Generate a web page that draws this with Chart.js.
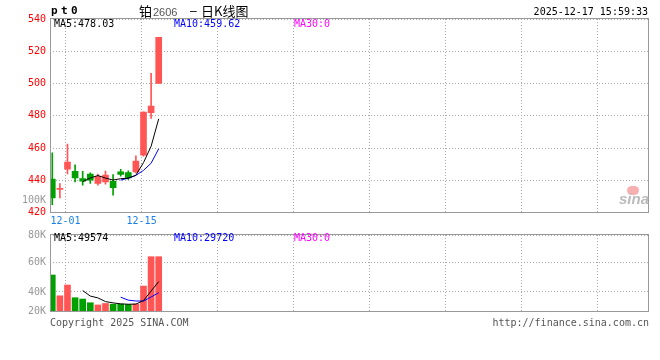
<!DOCTYPE html>
<html>
<head>
<meta charset="utf-8">
<script src="https://cdn.jsdelivr.net/npm/chart.js@4.4.1/dist/chart.umd.min.js"></script>
<style>
  body{margin:0;background:#fff;width:660px;height:360px;overflow:hidden;position:relative;font-family:"DejaVu Sans Mono",monospace;font-size:10px}
  canvas{position:absolute;left:0;top:0}
  .t{position:absolute;line-height:12px;height:12px;white-space:nowrap}
  .cjk{font-family:"Noto Sans CJK SC",sans-serif;font-size:13px;line-height:14px;height:14px}
</style>
</head>
<body>
<canvas id="kChart" width="660" height="360"></canvas>
<canvas id="volChart" width="660" height="360"></canvas>

<div class="t" style="left:51px;top:5px;font-weight:bold;font-size:11px;letter-spacing:3.4px">pt0</div>
<div class="t cjk" style="left:139px;top:4px">铂</div>
<div class="t" style="left:153px;top:6px;font-family:'Liberation Sans';font-size:11px;color:#555">2606</div>
<div class="t" style="left:190px;top:5px;font-family:'Liberation Sans';font-size:12px">–</div>
<div class="t cjk" style="left:201px;top:4px">日K线图</div>
<div class="t" style="right:12px;top:6px">2025-12-17 15:59:33</div>

<div class="t" style="left:54px;top:18px">MA5:478.03</div>
<div class="t" style="left:174px;top:18px;color:#0000ff">MA10:459.62</div>
<div class="t" style="left:294px;top:18px;color:#ff00ff">MA30:0</div>
<div class="t" style="right:614px;top:194px;color:#999">100K</div>

<div class="t" style="left:54px;top:232px">MA5:49574</div>
<div class="t" style="left:174px;top:232px;color:#0000ff">MA10:29720</div>
<div class="t" style="left:294px;top:232px;color:#ff00ff">MA30:0</div>

<div class="t" style="left:50px;top:317px;color:#555">Copyright 2025 SINA.COM</div>
<div class="t" style="right:11px;top:317px;color:#555">http://finance.sina.com.cn</div>

<div style="position:absolute;left:627px;top:186px;width:12px;height:9px;border-radius:6px;background:#f7b0b0"></div>
<div class="t" style="left:619px;top:191px;font-family:'Liberation Sans';font-size:15px;line-height:15px;height:15px;font-weight:bold;font-style:italic;color:#bbb">sina</div>

<script>
// daily candles
const dates  = ['11-27','11-28','12-01','12-02','12-03','12-04','12-05','12-08','12-09','12-10','12-11','12-12','12-15','12-16','12-17'];
const opens  = [440.7, 434.3, 446.9, 445.6, 441.1, 443.8, 438.0, 439.0, 439.4, 445.2, 444.8, 445.2, 455.6, 481.9, 500.1];
const closes = [429.1, 434.6, 451.2, 441.5, 439.4, 440.1, 442.5, 443.2, 435.4, 443.6, 441.5, 451.9, 482.2, 486.0, 528.7];
const highs  = [457.0, 438.0, 462.4, 449.6, 445.5, 444.6, 443.8, 445.7, 443.5, 446.7, 445.8, 455.2, 482.5, 506.3, 528.7];
const lows   = [424.8, 429.0, 444.0, 439.0, 437.0, 438.0, 437.0, 437.6, 430.7, 442.5, 440.5, 444.6, 455.0, 478.4, 500.0];
const volumes = [51500, 37400, 44700, 36100, 35200, 32700, 31200, 32200, 31700, 31800, 31500, 31800, 44000, 63900, 63900];

const xTickPos = [1.75, 11.75, 21.75, 31.75, 41.75, 51.75, 61.75, 71.75];
const xTickLabels = ['12-01', '12-15', '', '', '', '', '', ''];
const priceTicks = [420, 440, 460, 480, 500, 520, 540];
const volTicks = [27100, 40000, 60000, 78600];
const volTickLabels = ['20K', '40K', '60K', '80K'];

const RED = '#ff5555', GREEN = '#00a000';
const colors = opens.map((o, i) => closes[i] >= o ? RED : GREEN);

function sma(arr, n) {
  const out = [];
  for (let i = n - 1; i < arr.length; i++) {
    let s = 0;
    for (let j = i - n + 1; j <= i; j++) s += arr[j];
    out.push({x: i, y: s / n});
  }
  return out;
}

// grey box round the plot area
const frame = {
  id: 'frame',
  afterDraw(chart) {
    const a = chart.chartArea, c = chart.ctx;
    c.save();
    c.strokeStyle = '#999';
    c.lineWidth = 1;
    const x0 = Math.round(a.left) + 0.5, y0 = Math.round(a.top) - 0.5;
    const x1 = Math.round(a.right) - 0.5, y1 = Math.floor(a.bottom) + 0.5;
    c.strokeRect(x0, y0, x1 - x0, y1 - y0);
    c.restore();
  }
};

const font = {family: 'DejaVu Sans Mono', size: 10};

function xAxis(showLabels, height) {
  return {
    type: 'linear', min: -0.3, max: 78.5, offset: false,
    afterBuildTicks: s => { s.ticks = xTickPos.map(v => ({value: v})); },
    afterFit: s => { s.height = height; },
    grid: {offset: false, color: '#aaa', drawTicks: false},
    border: {display: false, dash: [1, 2]},
    ticks: {
      display: showLabels, padding: 3, color: '#1a80e6', font: font, maxRotation: 0, autoSkip: false,
      callback: (v, i) => xTickLabels[i]
    }
  };
}

const common = {
  responsive: false, animation: false, devicePixelRatio: 1,
  plugins: {legend: {display: false}, tooltip: {enabled: false}}
};

new Chart(document.getElementById('kChart'), {
  type: 'bar',
  data: {
    datasets: [
      {type: 'line', data: sma(closes, 5), borderColor: '#000', borderWidth: 1, pointRadius: 0, order: 0},
      {type: 'line', data: sma(closes, 10), borderColor: '#0000ff', borderWidth: 1, pointRadius: 0, order: 0},
      {data: dates.map((d, i) => ({x: i, y: [opens[i], closes[i]]})), backgroundColor: colors,
       barThickness: 6, minBarLength: 1, grouped: false, order: 1},
      {data: dates.map((d, i) => ({x: i, y: [lows[i], highs[i]]})), backgroundColor: colors,
       barThickness: 1, grouped: false, order: 2}
    ]
  },
  options: Object.assign({}, common, {
    layout: {padding: {top: 19, right: 11, left: 0, bottom: 0}},
    scales: {
      x: xAxis(true, 147.5),
      y: {
        min: 420, max: 540,
        afterBuildTicks: s => { s.ticks = priceTicks.map(v => ({value: v})); },
        afterFit: s => { s.width = 50; },
        grid: {color: '#aaa', drawTicks: false},
        border: {display: false, dash: [1, 2]},
        ticks: {padding: 4, color: '#ff0000', font: font}
      }
    }
  }),
  plugins: [frame]
});

new Chart(document.getElementById('volChart'), {
  type: 'bar',
  data: {
    datasets: [
      {type: 'line', data: sma(volumes, 5), borderColor: '#000', borderWidth: 1, pointRadius: 0, order: 0},
      {type: 'line', data: sma(volumes, 10), borderColor: '#0000ff', borderWidth: 1, pointRadius: 0, order: 0},
      {data: dates.map((d, i) => ({x: i, y: volumes[i]})), backgroundColor: colors,
       barThickness: 6, grouped: false, order: 1}
    ]
  },
  options: Object.assign({}, common, {
    layout: {padding: {top: 235, right: 11, left: 0, bottom: 0}},
    scales: {
      x: xAxis(false, 49),
      y: {
        min: volTicks[0], max: volTicks[volTicks.length - 1],
        afterBuildTicks: s => { s.ticks = volTicks.map(v => ({value: v})); },
        afterFit: s => { s.width = 50; },
        grid: {color: '#aaa', drawTicks: false},
        border: {display: false, dash: [1, 2]},
        ticks: {padding: 4, color: '#999', font: font, callback: (v, i) => volTickLabels[i]}
      }
    }
  }),
  plugins: [frame]
});
</script>
</body>
</html>
